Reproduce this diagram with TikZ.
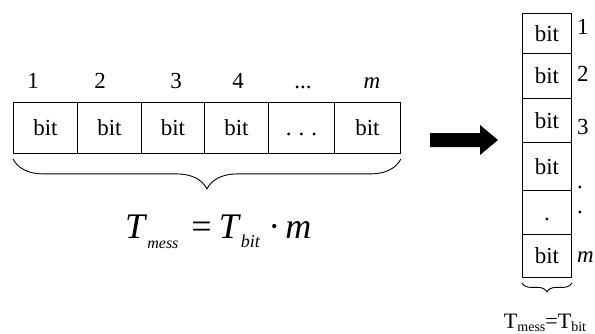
\documentclass[tikz,border=0pt]{standalone}
\usepackage{fontspec}
\setmainfont{Liberation Serif}
\usetikzlibrary{decorations.pathreplacing}
\begin{document}
\begin{tikzpicture}[x=1pt,y=-1pt,
  cell/.style={draw, line width=0.9pt, anchor=north west, inner sep=0pt, font=\fontsize{23}{26}\selectfont},
  num/.style={inner sep=0pt, anchor=base, font=\fontsize{23}{26}\selectfont},
  bracebelow/.style={decorate, line width=0.9pt, decoration={brace, mirror, amplitude=#1}},
  blockarrow/.style={fill=black}]
\useasboundingbox (0,0) rectangle (595,333);
% horizontal row
\foreach \n/\x/\w/\t/\lx/\l in {1/13/64/bit/33/1, 2/77/64/bit/100/2, 3/141/63/bit/176/3, 4/204/64/bit/238/4, 5/268/66/{\vphantom{bit}.\hspace{7pt}.\hspace{7pt}.}/303/{...}, 6/334/66/bit/372/\textit{m}}{
  \node[cell, minimum width=\w pt, minimum height=51pt] (h\n) at (\x,102) {\t};
  \node[num] (hl\n) at (\lx,88) {\l};
}
\draw[bracebelow=30pt] ([yshift=-5pt]h1.south west) -- ([yshift=-5pt]h6.south east);
% formula
\node[inner sep=0pt, anchor=base west, font=\fontsize{36}{40}\selectfont] (f) at (125,238)
  {\textit{T}\raisebox{-10pt}{\fontsize{16}{17}\selectfont\textit{mess}}\hspace{13pt}=\hspace{7pt}\textit{T}\raisebox{-9pt}{\fontsize{18}{19}\selectfont\textit{bit}}\hspace{8pt}·\hspace{5pt}\textit{m}};
% arrow
\fill[blockarrow] (430,133) -- (480,133) -- (480,125) -- (498,140) -- (480,155) -- (480,147) -- (430,147) -- cycle;
% vertical column
\foreach \n/\y/\h/\t in {1/13/40/bit, 2/53/45/bit, 3/98/44/bit, 4/142/48/bit, 5/190/44/{\vphantom{bit}.}, 6/234/43/bit}{
  \node[cell, minimum width=49pt, minimum height=\h pt] (v\n) at (522,\y) {\t};
}
\foreach \n/\y/\l in {1/34/1, 2/81/2, 3/134/3, 4/188/., 5/213/., 6/262/\textit{m}}{
  \node[num, anchor=base west] (vl\n) at (577,\y) {\l};
}
\draw[bracebelow=9pt] ([yshift=-5pt]v6.south west) -- ([yshift=-5pt]v6.south east);
\node[inner sep=0pt, anchor=base, font=\fontsize{22}{24}\selectfont] (g) at (545,328)
  {T\raisebox{-3pt}{\fontsize{14}{15}\selectfont mess}=T\raisebox{-3pt}{\fontsize{14}{15}\selectfont bit}};
\end{tikzpicture}
\end{document}
